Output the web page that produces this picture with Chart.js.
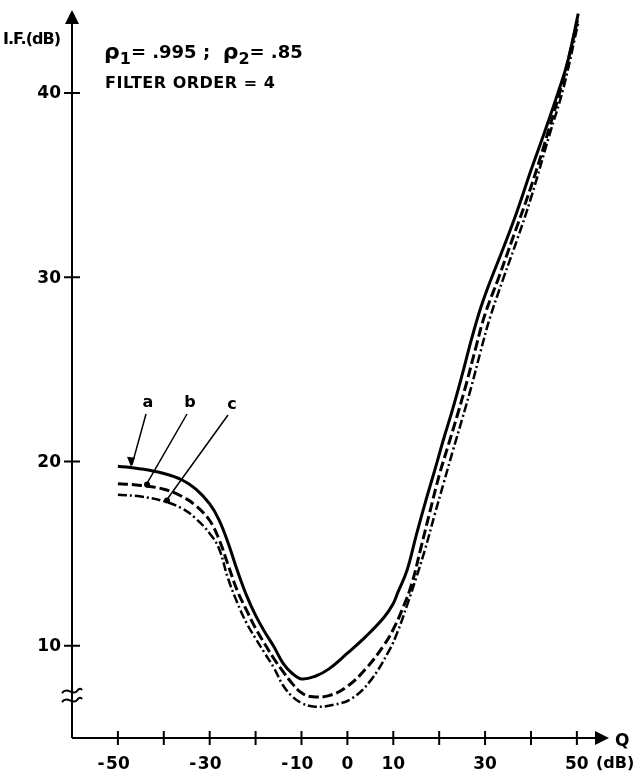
<!DOCTYPE html>
<html>
<head>
<meta charset="utf-8">
<script src="https://cdn.jsdelivr.net/npm/chart.js@4"></script>
<style>
  html, body { margin: 0; padding: 0; background: #fff; }
  canvas { display: block; }
</style>
</head>
<body>
<canvas id="ifChart" width="640" height="779"></canvas>
<script>
// Q (dB) on x, I.F. (dB) on y
const qA = [-50, -45, -40, -36, -33, -30, -28, -26, -24, -22, -20, -18, -16, -14, -12, -10, -7, -4, 0, 4, 8, 10, 11, 13, 15, 17, 19, 21, 23, 25, 27, 29, 31, 34, 37, 40, 43, 46, 48, 50.3];
const ifA = [19.75, 19.6, 19.35, 19.0, 18.5, 17.7, 16.85, 15.6, 14.1, 12.75, 11.65, 10.75, 9.95, 9.05, 8.5, 8.2, 8.35, 8.75, 9.6, 10.5, 11.55, 12.3, 12.9, 14.1, 16.0, 17.8, 19.5, 21.25, 22.9, 24.7, 26.6, 28.3, 29.7, 31.6, 33.6, 35.8, 37.9, 40.1, 41.7, 44.3];

const qB = [-50, -45, -40, -36, -33, -30, -28, -26, -24, -22, -20, -18, -16, -14, -12, -10, -8, -4, 0, 4, 8, 10, 12, 14, 16, 18, 20, 22, 24, 26, 28, 30, 33, 36, 40, 44, 47, 50.3];
const ifB = [18.8, 18.7, 18.5, 18.1, 17.6, 16.8, 15.8, 14.4, 13.0, 11.95, 10.95, 10.1, 9.3, 8.6, 7.95, 7.45, 7.25, 7.3, 7.8, 8.75, 10.05, 10.9, 12.0, 13.35, 15.3, 17.3, 19.25, 20.9, 22.55, 24.3, 26.2, 28.0, 30.0, 32.1, 34.9, 38.1, 40.7, 44.1];

const qC = [-50, -45, -40, -36, -33, -30, -28, -26, -24, -22, -20, -18, -16, -14, -12, -10, -7, -3, 1, 5, 9, 11, 13, 15, 17, 19, 21, 23, 25, 27, 29, 31, 34, 37, 40, 44, 47, 50.3];
const ifC = [18.2, 18.1, 17.85, 17.45, 16.9, 16.1, 15.3, 13.65, 12.35, 11.25, 10.4, 9.6, 8.8, 7.85, 7.25, 6.9, 6.7, 6.8, 7.15, 8.1, 9.7, 10.8, 12.2, 13.7, 15.3, 17.1, 18.85, 20.6, 22.3, 24.05, 25.95, 27.75, 29.95, 32.05, 34.3, 37.7, 40.2, 43.8];

const curveNames = ['a', 'b', 'c'];
const xTickMarks = [-50, -40, -30, -20, -10, 0, 10, 20, 30, 40, 50];
const xTickLabels = [-50, -30, -10, 0, 10, 30, 50];
const yTickMarks = [10, 20, 30, 40];
const yTickLabels = [10, 20, 30, 40];

const FONT = '"DejaVu Sans", "Liberation Sans", sans-serif';

function toPoints(xs, ys) {
  return xs.map((x, i) => ({ x: x, y: ys[i] }));
}

// pixel y of a dataset at pixel x, straight between points
function curveYAt(meta, px) {
  const pts = meta.data;
  for (let i = 1; i < pts.length; i++) {
    if (pts[i].x >= px) {
      const t = (px - pts[i - 1].x) / (pts[i].x - pts[i - 1].x);
      return pts[i - 1].y + t * (pts[i].y - pts[i - 1].y);
    }
  }
  return pts[pts.length - 1].y;
}

const axesPlugin = {
  id: 'axesPlugin',
  afterDraw(chart) {
    const ctx = chart.ctx;
    const xs = chart.scales.x;
    const ys = chart.scales.y;
    const x0 = xs.getPixelForValue(xs.min);
    const y0 = ys.getPixelForValue(ys.min);
    const xEnd = xs.getPixelForValue(xs.max);
    const yEnd = ys.getPixelForValue(ys.max);

    ctx.save();
    ctx.strokeStyle = '#000';
    ctx.fillStyle = '#000';
    ctx.lineWidth = 2;
    ctx.lineCap = 'butt';

    // axes
    ctx.beginPath();
    ctx.moveTo(x0, y0);
    ctx.lineTo(x0, yEnd + 10);
    ctx.moveTo(x0, y0);
    ctx.lineTo(xEnd - 10, y0);
    ctx.stroke();

    // arrow heads
    ctx.beginPath();
    ctx.moveTo(x0, yEnd);
    ctx.lineTo(x0 - 7, yEnd + 14);
    ctx.lineTo(x0 + 7, yEnd + 14);
    ctx.closePath();
    ctx.fill();
    ctx.beginPath();
    ctx.moveTo(xEnd, y0);
    ctx.lineTo(xEnd - 14, y0 - 7);
    ctx.lineTo(xEnd - 14, y0 + 7);
    ctx.closePath();
    ctx.fill();

    // crossing tick marks
    ctx.beginPath();
    xTickMarks.forEach(v => {
      const px = xs.getPixelForValue(v);
      ctx.moveTo(px, y0 - 7);
      ctx.lineTo(px, y0 + 7);
    });
    yTickMarks.forEach(v => {
      const py = ys.getPixelForValue(v);
      ctx.moveTo(x0 - 8, py);
      ctx.lineTo(x0 + 8, py);
    });
    ctx.stroke();

    // axis break on the y axis
    const yb = ys.getPixelForValue(7.3);
    [-4.5, 4.5].forEach(off => {
      ctx.beginPath();
      ctx.moveTo(x0 - 10, yb + off + 2);
      ctx.bezierCurveTo(x0 - 5, yb + off - 5, x0 + 1, yb + off + 5, x0 + 5, yb + off);
      ctx.bezierCurveTo(x0 + 7, yb + off - 3, x0 + 9, yb + off - 3, x0 + 10, yb + off - 1);
      ctx.stroke();
    });

    // tick labels
    ctx.font = 'bold 17px ' + FONT;
    ctx.textBaseline = 'middle';
    ctx.textAlign = 'center';
    xTickLabels.forEach(v => {
      const px = xs.getPixelForValue(v);
      const digits = String(Math.abs(v));
      ctx.fillText(digits, px, y0 + 27);
      if (v < 0) {
        const w = ctx.measureText(digits).width;
        ctx.fillText('-', px - w / 2 - 5, y0 + 27);
      }
    });
    ctx.textAlign = 'right';
    yTickLabels.forEach(v => {
      ctx.fillText(String(v), x0 - 11, ys.getPixelForValue(v) + 1);
    });

    // axis titles
    ctx.textAlign = 'left';
    ctx.font = 'bold 16px ' + FONT;
    ctx.letterSpacing = '-1px';
    ctx.fillText('I.F.(dB)', 3, 40);
    ctx.letterSpacing = '0px';
    ctx.font = 'bold 17px ' + FONT;
    ctx.fillText('Q', xEnd + 6, y0 + 4);
    ctx.font = 'bold 16px ' + FONT;
    ctx.fillText('(dB)', xEnd - 13, y0 + 26);

    // parameter text
    let tx = 104;
    const ty = 53;
    const part = (s, size, dy) => {
      ctx.font = 'bold ' + size + 'px ' + FONT;
      ctx.fillText(s, tx, ty + dy);
      tx += ctx.measureText(s).width;
    };
    part('ρ', 22, 0);
    part('1', 16, 7);
    part('= .995 ;  ', 18, 0);
    part('ρ', 22, 0);
    part('2', 16, 7);
    part('= .85', 18, 0);

    ctx.font = 'bold 16px ' + FONT;
    ctx.letterSpacing = '0.5px';
    ctx.fillText('FILTER ORDER = 4', 105, 84);
    ctx.letterSpacing = '0px';

    // curve labels with leader lines
    const leaders = [
      { text: [148, 403], from: [146, 414], to: 132 },
      { text: [190, 403], from: [187, 414], to: 147 },
      { text: [232, 405], from: [228, 415], to: 167 }
    ];
    ctx.lineWidth = 1.5;
    ctx.textAlign = 'center';
    ctx.font = 'bold 16px ' + FONT;
    leaders.forEach((l, i) => {
      const meta = chart.getDatasetMeta(i);
      const tyc = curveYAt(meta, l.to) - 3;
      ctx.fillText(curveNames[i], l.text[0], l.text[1]);
      ctx.beginPath();
      ctx.moveTo(l.from[0], l.from[1]);
      ctx.lineTo(l.to, tyc);
      ctx.stroke();
      ctx.beginPath();
      if (i === 0) {
        ctx.moveTo(l.to - 1, tyc + 2);
        ctx.lineTo(l.to - 5, tyc - 8);
        ctx.lineTo(l.to + 3, tyc - 7);
        ctx.closePath();
        ctx.fill();
      } else {
        ctx.arc(l.to, tyc + 1, 3, 0, Math.PI * 2);
        ctx.fill();
      }
    });

    ctx.restore();
  }
};

function renderChart() {
  const ctx = document.getElementById('ifChart');
  new Chart(ctx, {
    type: 'line',
    data: {
      datasets: [
        { label: curveNames[0], data: toPoints(qA, ifA), borderColor: '#000', borderWidth: 3, borderDash: [] },
        { label: curveNames[1], data: toPoints(qB, ifB), borderColor: '#000', borderWidth: 3, borderDash: [10, 4] },
        { label: curveNames[2], data: toPoints(qC, ifC), borderColor: '#000', borderWidth: 2.5, borderDash: [9, 3, 2, 3] }
      ]
    },
    options: {
      responsive: false,
      animation: false,
      layout: { padding: { left: 72, right: 31, top: 10, bottom: 41 } },
      elements: {
        point: { radius: 0 },
        line: { tension: 0.4, fill: false, borderCapStyle: 'butt', borderJoinStyle: 'round' }
      },
      plugins: { legend: { display: false }, tooltip: { enabled: false } },
      scales: {
        x: { type: 'linear', display: false, min: -60, max: 57 },
        y: { type: 'linear', display: false, min: 5, max: 44.5 }
      }
    },
    plugins: [axesPlugin]
  });
}

renderChart();
</script>
</body>
</html>
